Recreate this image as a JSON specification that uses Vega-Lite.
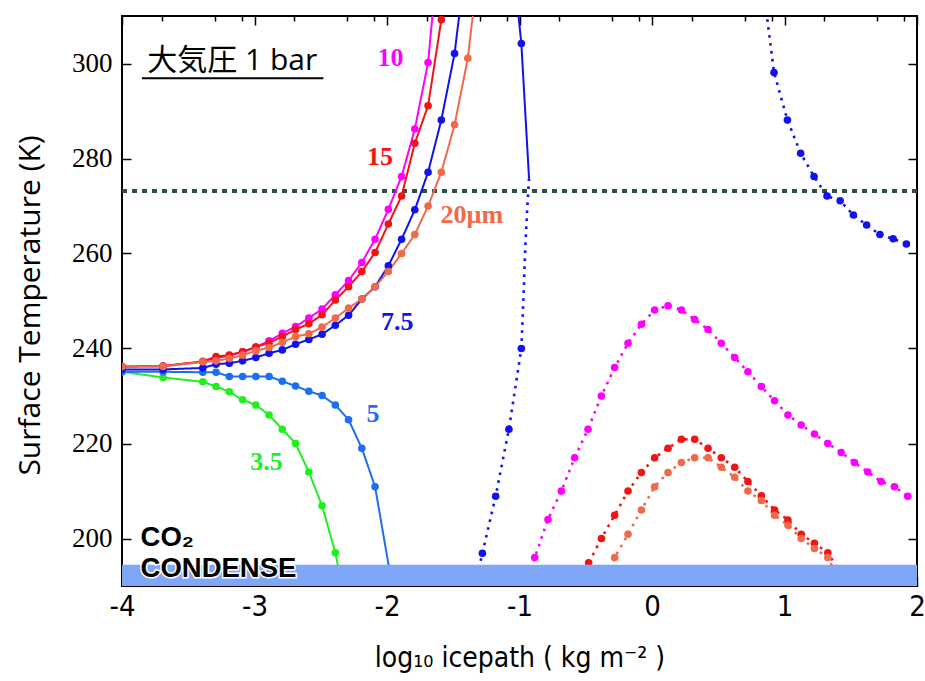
{
  "$schema": "https://vega.github.io/schema/vega-lite/v6.json",
  "width": 795,
  "height": 570,
  "autosize": {"type": "none"},
  "padding": {"left": 122, "top": 16, "right": 8, "bottom": 95},
  "background": "white",
  "config": {
    "view": {"stroke": "black", "strokeWidth": 2},
    "axis": {"grid": false, "domain": false, "tickColor": "black", "tickWidth": 1.5, "labelColor": "black", "titleColor": "black"}
  },
  "datasets": {
    "curves": [
      {"r": "3.5", "seg": "g", "stab": "s", "x": -4, "y": 235.1, "pt": 1},
      {"r": "3.5", "seg": "g", "stab": "s", "x": -3.69, "y": 233.9, "pt": 1},
      {"r": "3.5", "seg": "g", "stab": "s", "x": -3.39, "y": 233.0, "pt": 1},
      {"r": "3.5", "seg": "g", "stab": "s", "x": -3.29, "y": 232.0, "pt": 1},
      {"r": "3.5", "seg": "g", "stab": "s", "x": -3.19, "y": 230.9, "pt": 1},
      {"r": "3.5", "seg": "g", "stab": "s", "x": -3.09, "y": 229.2, "pt": 1},
      {"r": "3.5", "seg": "g", "stab": "s", "x": -2.99, "y": 228.1, "pt": 1},
      {"r": "3.5", "seg": "g", "stab": "s", "x": -2.89, "y": 226.0, "pt": 1},
      {"r": "3.5", "seg": "g", "stab": "s", "x": -2.79, "y": 223.0, "pt": 1},
      {"r": "3.5", "seg": "g", "stab": "s", "x": -2.69, "y": 220.0, "pt": 1},
      {"r": "3.5", "seg": "g", "stab": "s", "x": -2.59, "y": 214.0, "pt": 1},
      {"r": "3.5", "seg": "g", "stab": "s", "x": -2.49, "y": 206.9, "pt": 1},
      {"r": "3.5", "seg": "g", "stab": "s", "x": -2.39, "y": 197.0, "pt": 1},
      {"r": "3.5", "seg": "g", "stab": "s", "x": -2.35, "y": 191.5, "pt": 0},

      {"r": "5", "seg": "b5", "stab": "s", "x": -4, "y": 235.1, "pt": 1},
      {"r": "5", "seg": "b5", "stab": "s", "x": -3.69, "y": 235.1, "pt": 1},
      {"r": "5", "seg": "b5", "stab": "s", "x": -3.39, "y": 235.0, "pt": 1},
      {"r": "5", "seg": "b5", "stab": "s", "x": -3.29, "y": 235.0, "pt": 1},
      {"r": "5", "seg": "b5", "stab": "s", "x": -3.19, "y": 234.1, "pt": 1},
      {"r": "5", "seg": "b5", "stab": "s", "x": -3.09, "y": 234.1, "pt": 1},
      {"r": "5", "seg": "b5", "stab": "s", "x": -2.99, "y": 234.1, "pt": 1},
      {"r": "5", "seg": "b5", "stab": "s", "x": -2.89, "y": 234.1, "pt": 1},
      {"r": "5", "seg": "b5", "stab": "s", "x": -2.79, "y": 233.1, "pt": 1},
      {"r": "5", "seg": "b5", "stab": "s", "x": -2.69, "y": 232.1, "pt": 1},
      {"r": "5", "seg": "b5", "stab": "s", "x": -2.59, "y": 231.0, "pt": 1},
      {"r": "5", "seg": "b5", "stab": "s", "x": -2.49, "y": 230.1, "pt": 1},
      {"r": "5", "seg": "b5", "stab": "s", "x": -2.39, "y": 228.1, "pt": 1},
      {"r": "5", "seg": "b5", "stab": "s", "x": -2.29, "y": 225.0, "pt": 1},
      {"r": "5", "seg": "b5", "stab": "s", "x": -2.19, "y": 219.0, "pt": 1},
      {"r": "5", "seg": "b5", "stab": "s", "x": -2.09, "y": 210.9, "pt": 1},
      {"r": "5", "seg": "b5", "stab": "s", "x": -1.97, "y": 191.5, "pt": 0},

      {"r": "10", "seg": "m", "stab": "s", "x": -4, "y": 236.2, "pt": 1},
      {"r": "10", "seg": "m", "stab": "s", "x": -3.69, "y": 236.3, "pt": 1},
      {"r": "10", "seg": "m", "stab": "s", "x": -3.39, "y": 237.2, "pt": 1},
      {"r": "10", "seg": "m", "stab": "s", "x": -3.29, "y": 238.0, "pt": 1},
      {"r": "10", "seg": "m", "stab": "s", "x": -3.19, "y": 238.5, "pt": 1},
      {"r": "10", "seg": "m", "stab": "s", "x": -3.09, "y": 239.3, "pt": 1},
      {"r": "10", "seg": "m", "stab": "s", "x": -2.99, "y": 240.3, "pt": 1},
      {"r": "10", "seg": "m", "stab": "s", "x": -2.89, "y": 241.6, "pt": 1},
      {"r": "10", "seg": "m", "stab": "s", "x": -2.79, "y": 243.2, "pt": 1},
      {"r": "10", "seg": "m", "stab": "s", "x": -2.69, "y": 244.6, "pt": 1},
      {"r": "10", "seg": "m", "stab": "s", "x": -2.59, "y": 246.4, "pt": 1},
      {"r": "10", "seg": "m", "stab": "s", "x": -2.49, "y": 248.3, "pt": 1},
      {"r": "10", "seg": "m", "stab": "s", "x": -2.39, "y": 251.3, "pt": 1},
      {"r": "10", "seg": "m", "stab": "s", "x": -2.29, "y": 254.3, "pt": 1},
      {"r": "10", "seg": "m", "stab": "s", "x": -2.19, "y": 258.1, "pt": 1},
      {"r": "10", "seg": "m", "stab": "s", "x": -2.09, "y": 263.0, "pt": 1},
      {"r": "10", "seg": "m", "stab": "s", "x": -1.99, "y": 269.3, "pt": 1},
      {"r": "10", "seg": "m", "stab": "s", "x": -1.89, "y": 276.2, "pt": 1},
      {"r": "10", "seg": "m", "stab": "s", "x": -1.79, "y": 286.2, "pt": 1},
      {"r": "10", "seg": "m", "stab": "s", "x": -1.69, "y": 300.2, "pt": 1},
      {"r": "10", "seg": "m", "stab": "s", "x": -1.59, "y": 330.0, "pt": 1},

      {"r": "10", "seg": "mh", "stab": "u", "x": -0.935, "y": 192.0, "pt": 0},
      {"r": "10", "seg": "mh", "stab": "u", "x": -0.885, "y": 196.0, "pt": 1},
      {"r": "10", "seg": "mh", "stab": "u", "x": -0.785, "y": 204.0, "pt": 1},
      {"r": "10", "seg": "mh", "stab": "u", "x": -0.684, "y": 210.0, "pt": 1},
      {"r": "10", "seg": "mh", "stab": "u", "x": -0.584, "y": 217.0, "pt": 1},
      {"r": "10", "seg": "mh", "stab": "u", "x": -0.483, "y": 223.0, "pt": 1},
      {"r": "10", "seg": "mh", "stab": "u", "x": -0.382, "y": 230.0, "pt": 1},
      {"r": "10", "seg": "mh", "stab": "u", "x": -0.282, "y": 236.0, "pt": 1},
      {"r": "10", "seg": "mh", "stab": "u", "x": -0.181, "y": 241.1, "pt": 1},
      {"r": "10", "seg": "mh", "stab": "u", "x": -0.080, "y": 245.1, "pt": 1},
      {"r": "10", "seg": "mh", "stab": "u", "x": 0.020, "y": 248.1, "pt": 1},
      {"r": "10", "seg": "mh", "stab": "u", "x": 0.121, "y": 249.0, "pt": 1},
      {"r": "10", "seg": "mh", "stab": "u", "x": 0.222, "y": 248.1, "pt": 1},
      {"r": "10", "seg": "mh", "stab": "u", "x": 0.322, "y": 246.1, "pt": 1},
      {"r": "10", "seg": "mh", "stab": "u", "x": 0.423, "y": 244.0, "pt": 1},
      {"r": "10", "seg": "mh", "stab": "u", "x": 0.523, "y": 241.1, "pt": 1},
      {"r": "10", "seg": "mh", "stab": "u", "x": 0.624, "y": 238.1, "pt": 1},
      {"r": "10", "seg": "mh", "stab": "u", "x": 0.724, "y": 235.1, "pt": 1},
      {"r": "10", "seg": "mh", "stab": "u", "x": 0.825, "y": 232.0, "pt": 1},
      {"r": "10", "seg": "mh", "stab": "u", "x": 0.925, "y": 229.0, "pt": 1},
      {"r": "10", "seg": "mh", "stab": "u", "x": 1.026, "y": 226.0, "pt": 1},
      {"r": "10", "seg": "mh", "stab": "u", "x": 1.126, "y": 223.9, "pt": 1},
      {"r": "10", "seg": "mh", "stab": "u", "x": 1.226, "y": 222.0, "pt": 1},
      {"r": "10", "seg": "mh", "stab": "u", "x": 1.327, "y": 220.0, "pt": 1},
      {"r": "10", "seg": "mh", "stab": "u", "x": 1.428, "y": 218.1, "pt": 1},
      {"r": "10", "seg": "mh", "stab": "u", "x": 1.528, "y": 216.0, "pt": 1},
      {"r": "10", "seg": "mh", "stab": "u", "x": 1.629, "y": 214.0, "pt": 1},
      {"r": "10", "seg": "mh", "stab": "u", "x": 1.729, "y": 212.0, "pt": 1},
      {"r": "10", "seg": "mh", "stab": "u", "x": 1.830, "y": 210.9, "pt": 1},
      {"r": "10", "seg": "mh", "stab": "u", "x": 1.930, "y": 208.9, "pt": 1},

      {"r": "7.5", "seg": "b7a", "stab": "s", "x": -4, "y": 235.6, "pt": 1},
      {"r": "7.5", "seg": "b7a", "stab": "s", "x": -3.69, "y": 235.6, "pt": 1},
      {"r": "7.5", "seg": "b7a", "stab": "s", "x": -3.39, "y": 235.9, "pt": 1},
      {"r": "7.5", "seg": "b7a", "stab": "s", "x": -3.29, "y": 236.7, "pt": 1},
      {"r": "7.5", "seg": "b7a", "stab": "s", "x": -3.19, "y": 236.9, "pt": 1},
      {"r": "7.5", "seg": "b7a", "stab": "s", "x": -3.09, "y": 237.4, "pt": 1},
      {"r": "7.5", "seg": "b7a", "stab": "s", "x": -2.99, "y": 238.1, "pt": 1},
      {"r": "7.5", "seg": "b7a", "stab": "s", "x": -2.89, "y": 239.0, "pt": 1},
      {"r": "7.5", "seg": "b7a", "stab": "s", "x": -2.79, "y": 239.7, "pt": 1},
      {"r": "7.5", "seg": "b7a", "stab": "s", "x": -2.69, "y": 240.9, "pt": 1},
      {"r": "7.5", "seg": "b7a", "stab": "s", "x": -2.59, "y": 241.9, "pt": 1},
      {"r": "7.5", "seg": "b7a", "stab": "s", "x": -2.49, "y": 243.0, "pt": 1},
      {"r": "7.5", "seg": "b7a", "stab": "s", "x": -2.39, "y": 244.9, "pt": 1},
      {"r": "7.5", "seg": "b7a", "stab": "s", "x": -2.29, "y": 247.0, "pt": 1},
      {"r": "7.5", "seg": "b7a", "stab": "s", "x": -2.19, "y": 250.4, "pt": 1},
      {"r": "7.5", "seg": "b7a", "stab": "s", "x": -2.09, "y": 253.0, "pt": 1},
      {"r": "7.5", "seg": "b7a", "stab": "s", "x": -1.99, "y": 257.4, "pt": 1},
      {"r": "7.5", "seg": "b7a", "stab": "s", "x": -1.89, "y": 263.0, "pt": 1},
      {"r": "7.5", "seg": "b7a", "stab": "s", "x": -1.79, "y": 269.2, "pt": 1},
      {"r": "7.5", "seg": "b7a", "stab": "s", "x": -1.69, "y": 277.1, "pt": 1},
      {"r": "7.5", "seg": "b7a", "stab": "s", "x": -1.59, "y": 288.1, "pt": 1},
      {"r": "7.5", "seg": "b7a", "stab": "s", "x": -1.49, "y": 302.1, "pt": 1},
      {"r": "7.5", "seg": "b7a", "stab": "s", "x": -1.39, "y": 325.0, "pt": 1},

      {"r": "7.5", "seg": "b7b", "stab": "s", "x": -1.015, "y": 312.0, "pt": 0},
      {"r": "7.5", "seg": "b7b", "stab": "s", "x": -0.986, "y": 304.2, "pt": 1},
      {"r": "7.5", "seg": "b7b", "stab": "s", "x": -0.928, "y": 275.8, "pt": 0},

      {"r": "7.5", "seg": "b7c", "stab": "u", "x": -1.32, "y": 192.0, "pt": 0},
      {"r": "7.5", "seg": "b7c", "stab": "u", "x": -1.28, "y": 196.9, "pt": 1},
      {"r": "7.5", "seg": "b7c", "stab": "u", "x": -1.18, "y": 208.9, "pt": 1},
      {"r": "7.5", "seg": "b7c", "stab": "u", "x": -1.08, "y": 223.0, "pt": 1},
      {"r": "7.5", "seg": "b7c", "stab": "u", "x": -0.986, "y": 240.0, "pt": 1},
      {"r": "7.5", "seg": "b7c", "stab": "u", "x": -0.97, "y": 251.0, "pt": 0},
      {"r": "7.5", "seg": "b7c", "stab": "u", "x": -0.955, "y": 262.1, "pt": 0},
      {"r": "7.5", "seg": "b7c", "stab": "u", "x": -0.942, "y": 269.2, "pt": 0},
      {"r": "7.5", "seg": "b7c", "stab": "u", "x": -0.928, "y": 275.8, "pt": 0},

      {"r": "7.5", "seg": "b7d", "stab": "u", "x": 0.84, "y": 316.0, "pt": 0},
      {"r": "7.5", "seg": "b7d", "stab": "u", "x": 0.921, "y": 298.1, "pt": 1},
      {"r": "7.5", "seg": "b7d", "stab": "u", "x": 1.022, "y": 288.1, "pt": 1},
      {"r": "7.5", "seg": "b7d", "stab": "u", "x": 1.122, "y": 281.1, "pt": 1},
      {"r": "7.5", "seg": "b7d", "stab": "u", "x": 1.223, "y": 276.2, "pt": 1},
      {"r": "7.5", "seg": "b7d", "stab": "u", "x": 1.321, "y": 272.1, "pt": 1},
      {"r": "7.5", "seg": "b7d", "stab": "u", "x": 1.42, "y": 271.1, "pt": 1},
      {"r": "7.5", "seg": "b7d", "stab": "u", "x": 1.52, "y": 268.1, "pt": 1},
      {"r": "7.5", "seg": "b7d", "stab": "u", "x": 1.62, "y": 266.0, "pt": 1},
      {"r": "7.5", "seg": "b7d", "stab": "u", "x": 1.72, "y": 264.0, "pt": 1},
      {"r": "7.5", "seg": "b7d", "stab": "u", "x": 1.82, "y": 263.1, "pt": 1},
      {"r": "7.5", "seg": "b7d", "stab": "u", "x": 1.92, "y": 262.0, "pt": 1},

      {"r": "15", "seg": "r", "stab": "s", "x": -4, "y": 236.2, "pt": 1},
      {"r": "15", "seg": "r", "stab": "s", "x": -3.69, "y": 236.3, "pt": 1},
      {"r": "15", "seg": "r", "stab": "s", "x": -3.39, "y": 237.3, "pt": 1},
      {"r": "15", "seg": "r", "stab": "s", "x": -3.29, "y": 238.3, "pt": 1},
      {"r": "15", "seg": "r", "stab": "s", "x": -3.19, "y": 238.6, "pt": 1},
      {"r": "15", "seg": "r", "stab": "s", "x": -3.09, "y": 239.3, "pt": 1},
      {"r": "15", "seg": "r", "stab": "s", "x": -2.99, "y": 240.3, "pt": 1},
      {"r": "15", "seg": "r", "stab": "s", "x": -2.89, "y": 241.2, "pt": 1},
      {"r": "15", "seg": "r", "stab": "s", "x": -2.79, "y": 242.5, "pt": 1},
      {"r": "15", "seg": "r", "stab": "s", "x": -2.69, "y": 244.0, "pt": 1},
      {"r": "15", "seg": "r", "stab": "s", "x": -2.59, "y": 245.2, "pt": 1},
      {"r": "15", "seg": "r", "stab": "s", "x": -2.49, "y": 247.1, "pt": 1},
      {"r": "15", "seg": "r", "stab": "s", "x": -2.39, "y": 250.2, "pt": 1},
      {"r": "15", "seg": "r", "stab": "s", "x": -2.29, "y": 253.0, "pt": 1},
      {"r": "15", "seg": "r", "stab": "s", "x": -2.19, "y": 256.2, "pt": 1},
      {"r": "15", "seg": "r", "stab": "s", "x": -2.09, "y": 260.2, "pt": 1},
      {"r": "15", "seg": "r", "stab": "s", "x": -1.99, "y": 266.2, "pt": 1},
      {"r": "15", "seg": "r", "stab": "s", "x": -1.89, "y": 272.1, "pt": 1},
      {"r": "15", "seg": "r", "stab": "s", "x": -1.79, "y": 283.2, "pt": 1},
      {"r": "15", "seg": "r", "stab": "s", "x": -1.69, "y": 291.1, "pt": 1},
      {"r": "15", "seg": "r", "stab": "s", "x": -1.59, "y": 309.2, "pt": 1},
      {"r": "15", "seg": "r", "stab": "s", "x": -1.49, "y": 345.0, "pt": 1},

      {"r": "15", "seg": "rh", "stab": "u", "x": -0.53, "y": 192.0, "pt": 0},
      {"r": "15", "seg": "rh", "stab": "u", "x": -0.478, "y": 194.9, "pt": 1},
      {"r": "15", "seg": "rh", "stab": "u", "x": -0.382, "y": 200.0, "pt": 1},
      {"r": "15", "seg": "rh", "stab": "u", "x": -0.282, "y": 204.9, "pt": 1},
      {"r": "15", "seg": "rh", "stab": "u", "x": -0.181, "y": 210.0, "pt": 1},
      {"r": "15", "seg": "rh", "stab": "u", "x": -0.080, "y": 213.9, "pt": 1},
      {"r": "15", "seg": "rh", "stab": "u", "x": 0.020, "y": 217.0, "pt": 1},
      {"r": "15", "seg": "rh", "stab": "u", "x": 0.121, "y": 219.0, "pt": 1},
      {"r": "15", "seg": "rh", "stab": "u", "x": 0.222, "y": 220.9, "pt": 1},
      {"r": "15", "seg": "rh", "stab": "u", "x": 0.322, "y": 220.9, "pt": 1},
      {"r": "15", "seg": "rh", "stab": "u", "x": 0.423, "y": 219.0, "pt": 1},
      {"r": "15", "seg": "rh", "stab": "u", "x": 0.523, "y": 217.0, "pt": 1},
      {"r": "15", "seg": "rh", "stab": "u", "x": 0.624, "y": 215.0, "pt": 1},
      {"r": "15", "seg": "rh", "stab": "u", "x": 0.724, "y": 212.0, "pt": 1},
      {"r": "15", "seg": "rh", "stab": "u", "x": 0.825, "y": 209.0, "pt": 1},
      {"r": "15", "seg": "rh", "stab": "u", "x": 0.925, "y": 206.0, "pt": 1},
      {"r": "15", "seg": "rh", "stab": "u", "x": 1.026, "y": 203.9, "pt": 1},
      {"r": "15", "seg": "rh", "stab": "u", "x": 1.126, "y": 200.9, "pt": 1},
      {"r": "15", "seg": "rh", "stab": "u", "x": 1.226, "y": 199.0, "pt": 1},
      {"r": "15", "seg": "rh", "stab": "u", "x": 1.327, "y": 197.0, "pt": 1},
      {"r": "15", "seg": "rh", "stab": "u", "x": 1.43, "y": 192.5, "pt": 0},

      {"r": "20", "seg": "o", "stab": "s", "x": -4, "y": 236.2, "pt": 1},
      {"r": "20", "seg": "o", "stab": "s", "x": -3.69, "y": 236.2, "pt": 1},
      {"r": "20", "seg": "o", "stab": "s", "x": -3.39, "y": 237.2, "pt": 1},
      {"r": "20", "seg": "o", "stab": "s", "x": -3.29, "y": 237.4, "pt": 1},
      {"r": "20", "seg": "o", "stab": "s", "x": -3.19, "y": 237.9, "pt": 1},
      {"r": "20", "seg": "o", "stab": "s", "x": -3.09, "y": 238.6, "pt": 1},
      {"r": "20", "seg": "o", "stab": "s", "x": -2.99, "y": 239.5, "pt": 1},
      {"r": "20", "seg": "o", "stab": "s", "x": -2.89, "y": 240.2, "pt": 1},
      {"r": "20", "seg": "o", "stab": "s", "x": -2.79, "y": 241.3, "pt": 1},
      {"r": "20", "seg": "o", "stab": "s", "x": -2.69, "y": 242.5, "pt": 1},
      {"r": "20", "seg": "o", "stab": "s", "x": -2.59, "y": 243.1, "pt": 1},
      {"r": "20", "seg": "o", "stab": "s", "x": -2.49, "y": 244.5, "pt": 1},
      {"r": "20", "seg": "o", "stab": "s", "x": -2.39, "y": 246.4, "pt": 1},
      {"r": "20", "seg": "o", "stab": "s", "x": -2.29, "y": 248.5, "pt": 1},
      {"r": "20", "seg": "o", "stab": "s", "x": -2.19, "y": 250.4, "pt": 1},
      {"r": "20", "seg": "o", "stab": "s", "x": -2.09, "y": 253.0, "pt": 1},
      {"r": "20", "seg": "o", "stab": "s", "x": -1.99, "y": 256.2, "pt": 1},
      {"r": "20", "seg": "o", "stab": "s", "x": -1.89, "y": 260.0, "pt": 1},
      {"r": "20", "seg": "o", "stab": "s", "x": -1.79, "y": 264.0, "pt": 1},
      {"r": "20", "seg": "o", "stab": "s", "x": -1.69, "y": 270.0, "pt": 1},
      {"r": "20", "seg": "o", "stab": "s", "x": -1.59, "y": 277.1, "pt": 1},
      {"r": "20", "seg": "o", "stab": "s", "x": -1.49, "y": 287.1, "pt": 1},
      {"r": "20", "seg": "o", "stab": "s", "x": -1.39, "y": 301.1, "pt": 1},
      {"r": "20", "seg": "o", "stab": "s", "x": -1.29, "y": 325.0, "pt": 1},

      {"r": "20", "seg": "oh", "stab": "u", "x": -0.33, "y": 192.0, "pt": 0},
      {"r": "20", "seg": "oh", "stab": "u", "x": -0.282, "y": 196.0, "pt": 1},
      {"r": "20", "seg": "oh", "stab": "u", "x": -0.181, "y": 200.9, "pt": 1},
      {"r": "20", "seg": "oh", "stab": "u", "x": -0.080, "y": 206.0, "pt": 1},
      {"r": "20", "seg": "oh", "stab": "u", "x": 0.020, "y": 210.9, "pt": 1},
      {"r": "20", "seg": "oh", "stab": "u", "x": 0.121, "y": 213.9, "pt": 1},
      {"r": "20", "seg": "oh", "stab": "u", "x": 0.222, "y": 216.0, "pt": 1},
      {"r": "20", "seg": "oh", "stab": "u", "x": 0.322, "y": 217.0, "pt": 1},
      {"r": "20", "seg": "oh", "stab": "u", "x": 0.423, "y": 217.0, "pt": 1},
      {"r": "20", "seg": "oh", "stab": "u", "x": 0.523, "y": 215.0, "pt": 1},
      {"r": "20", "seg": "oh", "stab": "u", "x": 0.624, "y": 212.9, "pt": 1},
      {"r": "20", "seg": "oh", "stab": "u", "x": 0.724, "y": 210.0, "pt": 1},
      {"r": "20", "seg": "oh", "stab": "u", "x": 0.825, "y": 208.0, "pt": 1},
      {"r": "20", "seg": "oh", "stab": "u", "x": 0.925, "y": 204.9, "pt": 1},
      {"r": "20", "seg": "oh", "stab": "u", "x": 1.026, "y": 202.8, "pt": 1},
      {"r": "20", "seg": "oh", "stab": "u", "x": 1.126, "y": 200.0, "pt": 1},
      {"r": "20", "seg": "oh", "stab": "u", "x": 1.226, "y": 197.9, "pt": 1},
      {"r": "20", "seg": "oh", "stab": "u", "x": 1.327, "y": 196.0, "pt": 1},
      {"r": "20", "seg": "oh", "stab": "u", "x": 1.40, "y": 192.0, "pt": 0}
    ],
    "curveLabels": [
      {"label": "10", "r": "10", "x": -1.974, "y": 301.2},
      {"label": "15", "r": "15", "x": -2.053, "y": 280.4},
      {"label": "20µm", "r": "20", "x": -1.36, "y": 268.1},
      {"label": "7.5", "r": "7.5", "x": -1.922, "y": 245.5},
      {"label": "5", "r": "5", "x": -2.106, "y": 226.3},
      {"label": "3.5", "r": "3.5", "x": -2.91, "y": 216.2}
    ]
  },
  "resolve": {"axis": {"x": "independent", "y": "independent"}},
  "layer": [
    {
      "data": {"values": [{"T": 273.15}]},
      "mark": {"type": "rule", "color": "#2f4f4f", "strokeWidth": 4, "strokeDash": [5, 5]},
      "encoding": {
        "y": {"field": "T", "type": "quantitative", "scale": {"domain": [190, 310], "nice": false, "zero": false},
          "axis": {"orient": "left", "values": [200, 220, 240, 260, 280, 300], "ticks": false, "labelPadding": 10, "labelFont": "Liberation Serif", "labelFontSize": 27,
            "title": "Surface Temperature (K)", "titleFont": "Open Sans", "titleFontSize": 30, "titleFontWeight": "normal", "titleX": -92, "titleY": 289, "titleAngle": 270, "titleBaseline": "middle", "titleAlign": "center"}}
      }
    },
    {
      "data": {"name": "curves"},
      "mark": {"type": "line", "clip": true},
      "encoding": {
        "x": {"field": "x", "type": "quantitative", "scale": {"domain": [-4, 2], "nice": false, "zero": false},
          "axis": {"orient": "bottom", "values": [-4, -3, -2, -1, 0, 1, 2], "labels": false, "tickSize": 9, "offset": -9, "title": null}},
        "y": {"field": "y", "type": "quantitative", "scale": {"domain": [190, 310], "nice": false, "zero": false},
          "axis": {"orient": "left", "values": [200, 220, 240, 260, 280, 300], "labels": false, "tickSize": 9, "offset": -9, "title": null}},
        "color": {"field": "r", "type": "nominal", "legend": null,
          "scale": {"domain": ["3.5", "5", "7.5", "10", "15", "20"], "range": ["#1ef01e", "#1e6ff0", "#1212ee", "#ff00ff", "#f01414", "#f06a4a"]}},
        "detail": {"field": "seg"},
        "strokeDash": {"field": "stab", "type": "nominal", "legend": null, "scale": {"domain": ["s", "u"], "range": [[1, 0], [2.6, 5.4]]}},
        "strokeWidth": {"field": "stab", "type": "nominal", "legend": null, "scale": {"domain": ["s", "u"], "range": [2, 2.6]}}
      }
    },
    {
      "data": {"name": "curves"},
      "transform": [{"filter": "datum.pt == 1"}],
      "mark": {"type": "circle", "size": 58, "opacity": 1, "clip": true},
      "encoding": {
        "x": {"field": "x", "type": "quantitative", "scale": {"domain": [-4, 2], "nice": false, "zero": false},
          "axis": {"orient": "bottom", "values": [-3.699, -3.301, -3.097, -2.699, -2.301, -2.097, -1.699, -1.301, -1.097, -0.699, -0.301, -0.097, 0.301, 0.699, 0.903, 1.301, 1.699, 1.903], "labels": false, "tickSize": 5, "offset": -5, "title": null}},
        "y": {"field": "y", "type": "quantitative", "scale": {"domain": [190, 310], "nice": false, "zero": false},
          "axis": {"orient": "right", "values": [200, 220, 240, 260, 280, 300], "labels": false, "tickSize": 9, "offset": -9, "title": null}},
        "color": {"field": "r", "type": "nominal", "legend": null}
      }
    },
    {
      "data": {"values": [{"x1": -4, "x2": 2, "t1": 190, "t2": 194.5}]},
      "mark": {"type": "rect", "color": "#80a6f8"},
      "encoding": {
        "x": {"field": "x1", "type": "quantitative", "scale": {"domain": [-4, 2], "nice": false, "zero": false},
          "axis": {"orient": "bottom", "values": [-4, -3, -2, -1, 0, 1, 2], "ticks": false, "labelPadding": 6, "labelFlush": false, "labelExpr": "datum.value + ''",
            "labelFont": "Liberation Sans Narrow, DejaVu Sans Condensed, Lato", "labelFontSize": 29,
            "title": "log₁₀ icepath ( kg m⁻² )", "titleFont": "Liberation Sans Narrow, DejaVu Sans Condensed, Lato", "titleFontSize": 28, "titleFontWeight": "normal", "titleY": 80, "titleBaseline": "alphabetic"}},
        "x2": {"field": "x2"},
        "y": {"field": "t1", "type": "quantitative", "scale": {"domain": [190, 310], "nice": false, "zero": false}, "axis": null},
        "y2": {"field": "t2"}
      }
    },
    {
      "data": {"name": "curveLabels"},
      "mark": {"type": "text", "font": "Liberation Serif", "fontWeight": "bold", "fontSize": 26, "align": "center", "baseline": "middle"},
      "encoding": {
        "x": {"field": "x", "type": "quantitative", "scale": {"domain": [-4, 2], "nice": false, "zero": false},
          "axis": {"orient": "top", "values": [-4, -3, -2, -1, 0, 1, 2], "labels": false, "tickSize": 9, "offset": -9, "title": null}},
        "y": {"field": "y", "type": "quantitative", "scale": {"domain": [190, 310], "nice": false, "zero": false}, "axis": null},
        "text": {"field": "label"},
        "color": {"field": "r", "type": "nominal", "legend": null}
      }
    },
    {
      "data": {"values": [{"x1": -3.85, "x2": -2.48, "T": 296.9}]},
      "mark": {"type": "rule", "color": "black", "strokeWidth": 2},
      "encoding": {
        "x": {"field": "x1", "type": "quantitative", "scale": {"domain": [-4, 2], "nice": false, "zero": false},
          "axis": {"orient": "top", "values": [-3.699, -3.301, -3.097, -2.699, -2.301, -2.097, -1.699, -1.301, -1.097, -0.699, -0.301, -0.097, 0.301, 0.699, 0.903, 1.301, 1.699, 1.903], "labels": false, "tickSize": 5, "offset": -5, "title": null}},
        "x2": {"field": "x2"},
        "y": {"field": "T", "type": "quantitative", "scale": {"domain": [190, 310], "nice": false, "zero": false}, "axis": null}
      }
    },
    {
      "data": {"values": [{"label": "大気圧 1 bar", "x": -3.81, "y": 298.6}]},
      "mark": {"type": "text", "font": "Open Sans, Noto Sans CJK JP", "fontSize": 30, "align": "left", "baseline": "alphabetic", "color": "black"},
      "encoding": {
        "x": {"field": "x", "type": "quantitative", "scale": {"domain": [-4, 2], "nice": false, "zero": false}, "axis": null},
        "y": {"field": "y", "type": "quantitative", "scale": {"domain": [190, 310], "nice": false, "zero": false}, "axis": null},
        "text": {"field": "label"}
      }
    },
    {
      "data": {"values": [{"label": "CO₂", "x": -3.86, "y": 198.5}, {"label": "CONDENSE", "x": -3.86, "y": 192.0}]},
      "mark": {"type": "text", "font": "Liberation Sans", "fontWeight": "bold", "fontSize": 27.5, "align": "left", "baseline": "alphabetic", "color": "white", "stroke": "white", "strokeWidth": 3},
      "encoding": {
        "x": {"field": "x", "type": "quantitative", "scale": {"domain": [-4, 2], "nice": false, "zero": false}, "axis": null},
        "y": {"field": "y", "type": "quantitative", "scale": {"domain": [190, 310], "nice": false, "zero": false}, "axis": null},
        "text": {"field": "label"}
      }
    },
    {
      "data": {"values": [{"label": "CO₂", "x": -3.86, "y": 198.5}, {"label": "CONDENSE", "x": -3.86, "y": 192.0}]},
      "mark": {"type": "text", "font": "Liberation Sans", "fontWeight": "bold", "fontSize": 27.5, "align": "left", "baseline": "alphabetic", "color": "black"},
      "encoding": {
        "x": {"field": "x", "type": "quantitative", "scale": {"domain": [-4, 2], "nice": false, "zero": false}, "axis": null},
        "y": {"field": "y", "type": "quantitative", "scale": {"domain": [190, 310], "nice": false, "zero": false}, "axis": null},
        "text": {"field": "label"}
      }
    }
  ]
}
